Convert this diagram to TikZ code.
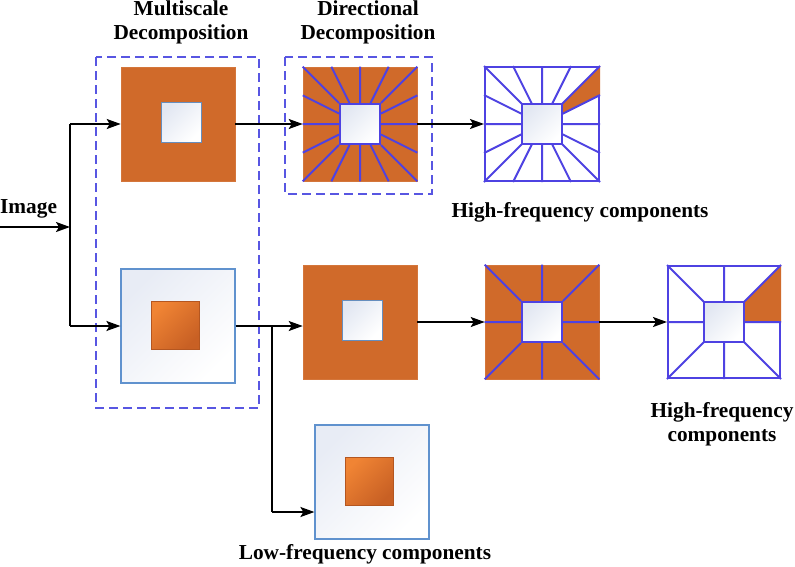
\documentclass[tikz,border=0pt]{standalone}
\usepackage{fontspec}
\setmainfont{Liberation Serif}
\usetikzlibrary{arrows.meta,calc}
\definecolor{org}{RGB}{208,106,42}
\definecolor{orgL}{RGB}{240,132,52}
\definecolor{orgD}{RGB}{200,96,36}
\definecolor{rayblue}{RGB}{78,66,226}
\definecolor{dashblue}{RGB}{88,86,226}
\definecolor{lbord}{RGB}{96,146,206}
\definecolor{lb}{RGB}{232,236,245}
\definecolor{lbs}{RGB}{226,231,242}
\newcommand\drawrays[3]{%
  \foreach \f in {#3}{%
    \draw[ray] ($(#1.north west)!\f!(#1.north east)$) -- ($(#2.north west)!\f!(#2.north east)$);
    \draw[ray] ($(#1.south west)!\f!(#1.south east)$) -- ($(#2.south west)!\f!(#2.south east)$);
    \draw[ray] ($(#1.north west)!\f!(#1.south west)$) -- ($(#2.north west)!\f!(#2.south west)$);
    \draw[ray] ($(#1.north east)!\f!(#1.south east)$) -- ($(#2.north east)!\f!(#2.south east)$);
  }%
  \foreach \c in {north west,north east,south west,south east}{\draw[ray] (#1.\c) -- (#2.\c);}%
}
\begin{document}
\begin{tikzpicture}[x=1pt,y=-1pt,
  sq/.style={rectangle,inner sep=0pt,minimum size=#1},
  orangebox/.style={sq=#1,fill=org,draw=org!92!white,line width=0.6pt},
  lightbox/.style={sq=#1,draw=lbord,line width=1.2pt,top color=lb,bottom color=white,shading angle=45},
  hole/.style={sq=#1,draw=lbord!80!gray,line width=1pt,top color=lbs,bottom color=white,shading angle=45},
  bluehole/.style={sq=#1,draw=rayblue,line width=2pt,top color=lbs,bottom color=white,shading angle=45},
  core/.style={sq=#1,draw=orgD!90!black,line width=0.6pt,top color=orgL,bottom color=orgD,shading angle=45},
  hfbox/.style={sq=#1,draw=rayblue,line width=2pt,fill=white},
  ray/.style={draw=rayblue,line width=2pt},
  arr/.style={-{Stealth[length=14pt,width=10pt,inset=3pt]},line width=1.8pt,black},
  wire/.style={line width=1.8pt,black},
  dashbox/.style={draw=dashblue,line width=1.6pt,dash pattern=on 9pt off 5pt},
  lbl/.style={font=\bfseries\fontsize{21.3}{24}\selectfont,inner sep=0pt,align=center}]
\useasboundingbox (0,0) rectangle (795,566);

% dashed groups
\draw[dashbox] (96,57) rectangle (259,408);
\draw[dashbox] (285,57) rectangle (432,194);

% multiscale boxes
\node[orangebox=114pt] (ms1) at (178,124) {};
\node[hole=40pt] (ms1i) at (181,122) {};
\node[lightbox=114pt] (ms2) at (178,326) {};
\node[core=48pt] (ms2i) at (175,325) {};

% directional top
\node[orangebox=114pt] (dt) at (360,124) {};
\node[bluehole=40pt] (dti) at (360,124) {};
\drawrays{dt}{dti}{0.25,0.5,0.75}

% high-frequency top
\node[hfbox=114pt] (hf1) at (542,124) {};
\node[sq=40pt] (hf1i) at (542,124) {};
\fill[org] (hf1i.north east) -- (hf1.north east) -- ($(hf1.north east)!0.25!(hf1.south east)$) -- ($(hf1i.north east)!0.25!(hf1i.south east)$) -- cycle;
\node[bluehole=40pt] at (hf1i) {};
\drawrays{hf1}{hf1i}{0.25,0.5,0.75}

% second level
\node[orangebox=114pt] (lp2) at (360,322) {};
\node[hole=40pt] (lp2i) at (362,320) {};

\node[orangebox=114pt] (dir2) at (542,322) {};
\node[bluehole=40pt] (dir2i) at (542,322) {};
\drawrays{dir2}{dir2i}{0.5}

\node[hfbox=112pt] (hf2) at (724,322) {};
\node[sq=40pt] (hf2i) at (724,322) {};
\fill[org] (hf2i.north east) -- (hf2.north east) -- (hf2.east) -- (hf2i.east) -- cycle;
\node[bluehole=40pt] at (hf2i) {};
\drawrays{hf2}{hf2i}{0.5}

% low frequency
\node[lightbox=114pt] (low) at (372,482) {};
\node[core=48pt] (lowi) at (369,481) {};

% connectors
\coordinate (start) at (0,227);
\coordinate (j0) at (70,227);
\coordinate (jt) at (70,124);
\coordinate (jb) at (70,326);
\coordinate (j1) at (272,326);
\coordinate (j2) at (272,512);
\draw[arr] (start) -- (j0);
\draw[wire] (jt) -- (jb);
\draw[arr] (jt) -- (jt -| ms1.west);
\draw[arr] (jb) -- (jb -| ms2.west);
\draw[arr] (ms1.east) -- (ms1.east -| dt.west);
\draw[arr] (dt.east) -- (dt.east -| hf1.west);
\draw[wire] (ms2.east) -- (j1);
\draw[arr] (j1) -- (j1 -| lp2.west);
\draw[wire] (j1) -- (j2);
\draw[arr] (j2) -- (j2 -| low.west);
\draw[arr] (lp2.east) -- (lp2.east -| dir2.west);
\draw[arr] (dir2.east) -- (dir2.east -| hf2.west);

% labels
\node[lbl,anchor=base west] (limg) at (0,213) {Image};
\node[lbl,anchor=north] (lms) at (181,1) {Multiscale\\Decomposition};
\node[lbl,anchor=north] (ldd) at (368,1) {Directional\\Decomposition};
\node[lbl,anchor=base] (lhf1) at (580,217) {High-frequency components};
\node[lbl,anchor=north] (lhf2) at (722,402) {High-frequency\\components};
\node[lbl,anchor=base] (llf) at (365,559) {Low-frequency components};
\end{tikzpicture}
\end{document}
